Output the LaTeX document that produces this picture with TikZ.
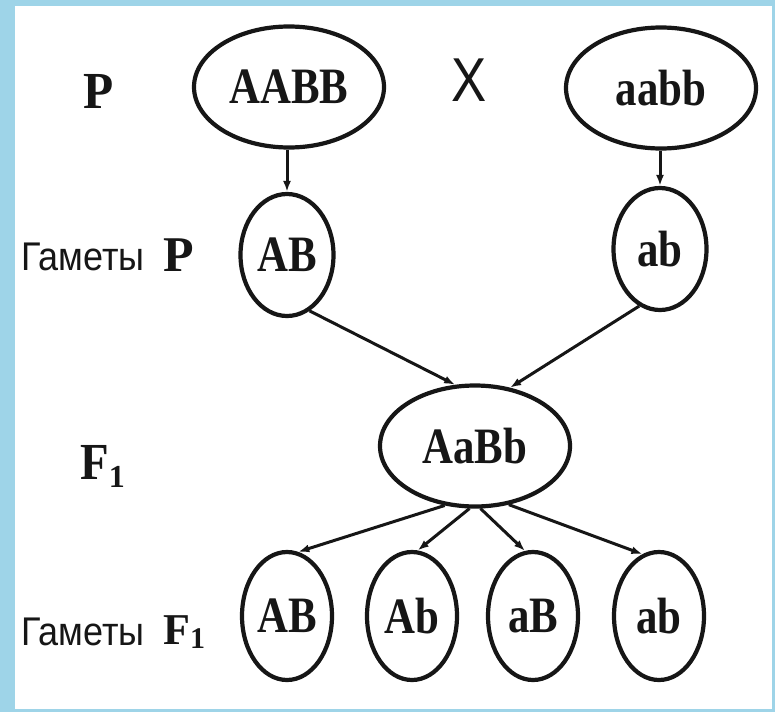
\documentclass[tikz,border=0pt]{standalone}
\usepackage{fontspec}
\setmainfont{Liberation Serif}
\newfontfamily\gamfont{Liberation Sans}
\usetikzlibrary{shapes.geometric,arrows.meta}
\definecolor{frameblue}{RGB}{158,212,232}
\definecolor{ink}{RGB}{22,22,22}
\newcommand{\gtx}[1]{\scalebox{0.84}[1]{\fontsize{51}{56}\selectfont\bfseries #1}}
\newcommand{\gsub}[2]{\raisebox{#1}{\fontsize{#2}{#2}\selectfont\bfseries 1}}
\newcommand{\gamtext}{\scalebox{0.9}[1]{\gamfont\fontsize{40}{44}\selectfont Гаметы}}
\begin{document}
\begin{tikzpicture}[x=1pt,y=-1pt,
  geno/.style={ellipse, draw=ink, line width=4.2pt, inner sep=0pt, text=ink},
  bigell/.style={geno, minimum width=190pt, minimum height=121pt},
  midell/.style={geno, minimum width=93pt, minimum height=122pt},
  lowell/.style={geno, minimum width=90pt, minimum height=128pt},
  arr/.style={draw=ink, line width=3pt, -{Latex[length=11pt,width=8pt]}},
  lbl/.style={inner sep=0pt, text=ink}]
\useasboundingbox (0,0) rectangle (775,712);
\fill[frameblue] (0,0) rectangle (775,712);
\fill[white] (15,6) rectangle (772,709);

% parents
\node[bigell] (AABB) at (289,87) {\gtx{AABB}};
\node[bigell] (aabb) at (661,88) {\gtx{aabb}};
\node[lbl] (cross) at (469,80) {\scalebox{0.85}[1]{\gamfont\fontsize{62}{62}\selectfont X}};
\node[lbl] (Plbl) at (99,91) {\scalebox{0.95}[1]{\fontsize{52}{56}\selectfont\bfseries P}};

% parent gametes
\node[midell] (gAB) at (287,255) {\gtx{AB}};
\node[midell] (gab) at (660,249) {\gtx{ab}};
\node[lbl, anchor=base west] (gam1) at (21,270) {\gamtext};
\node[lbl, anchor=base west] (gP) at (163,271) {\fontsize{50}{54}\selectfont\bfseries P};

% F1
\node[bigell] (F) at (475,446) {\gtx{AaBb}};
\node[lbl, anchor=base west] (Flbl) at (80,479) {\scalebox{0.9}[1]{\fontsize{52}{56}\selectfont\bfseries F}\gsub{-8pt}{32}};

% F1 gametes
\node[lowell] (q1) at (287,616) {\gtx{AB}};
\node[lowell] (q2) at (412,616) {\gtx{Ab}};
\node[lowell] (q3) at (533,616) {\gtx{aB}};
\node[lowell] (q4) at (659,616) {\gtx{ab}};
\node[lbl, anchor=base west] (gam2) at (21,645) {\gamtext};
\node[lbl, anchor=base west] (gF) at (163,644) {\fontsize{44}{48}\selectfont\bfseries F\gsub{-4pt}{30}};

% connectors
\draw[arr] (AABB.south -| gAB.north) -- (gAB.north);
\draw[arr] (aabb.south -| gab.north) -- (gab.north);
\draw[arr] (gAB.-68) -- (F.108);
\draw[arr] (gab.250) -- (F.59);
\draw[arr] (F.243) -- (q1.80);
\draw[arr] (F.265) -- (q2.85);
\draw[arr] (F.275) -- (q3.97);
\draw[arr] (F.300) -- (q4.105);
\end{tikzpicture}
\end{document}
